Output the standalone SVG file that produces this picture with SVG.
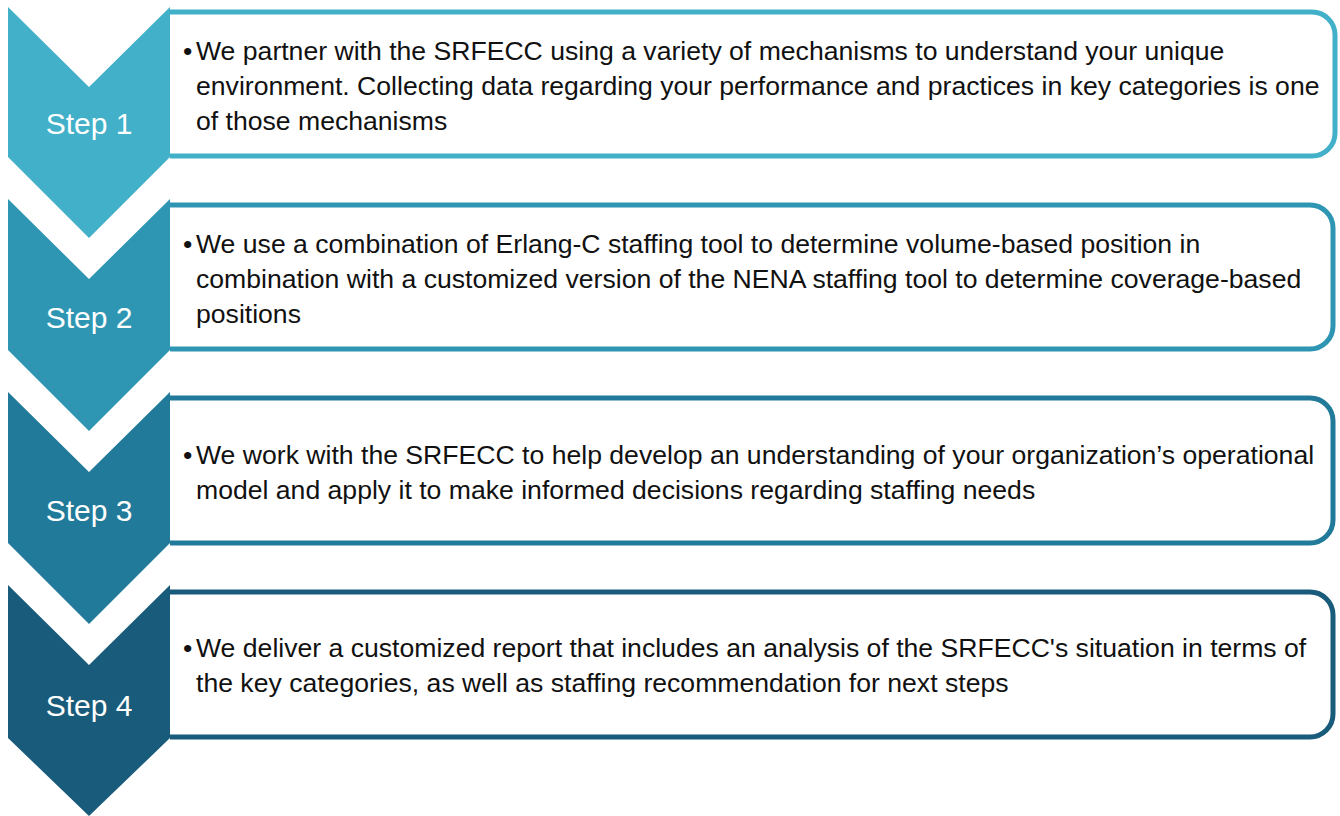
<svg xmlns="http://www.w3.org/2000/svg" width="1340" height="816" viewBox="0 0 1340 816">
<style>
.box{fill:#fff;stroke-width:5}
.step{font-family:"Liberation Sans",Arial,sans-serif;font-size:30px;fill:#fff;text-anchor:middle}
.body{font-family:"Liberation Sans",Arial,sans-serif;font-size:26.6px;fill:#111}
</style>
<rect width="1340" height="816" fill="#fff"/>
<g id="step1">
<path class="box" stroke="#41B0C8" d="M170,12 H1312 A23,23 0 0 1 1335,35 V133 A23,23 0 0 1 1312,156 H170"/>
<path fill="#41B0C8" d="M8,7 L89,87 L170,7 L170,157 L89,238 L8,157 Z"/>
<text class="step" x="89" y="134">Step 1</text>
<text class="body"><tspan x="183" y="60">•</tspan><tspan x="196" y="60">We partner with the SRFECC using a variety of mechanisms to understand your unique</tspan><tspan x="196" y="95">environment. Collecting data regarding your performance and practices in key categories is one</tspan><tspan x="196" y="130">of those mechanisms</tspan></text>
</g>
<g id="step2">
<path class="box" stroke="#2E96B3" d="M170,205 H1310 A23,23 0 0 1 1333,228 V326 A23,23 0 0 1 1310,349 H170"/>
<path fill="#2E96B3" d="M8,199 L89,279 L170,199 L170,350 L89,431 L8,350 Z"/>
<text class="step" x="89" y="328">Step 2</text>
<text class="body"><tspan x="183" y="253">•</tspan><tspan x="196" y="253">We use a combination of Erlang-C staffing tool to determine volume-based position in</tspan><tspan x="196" y="288">combination with a customized version of the NENA staffing tool to determine coverage-based</tspan><tspan x="196" y="323">positions</tspan></text>
</g>
<g id="step3">
<path class="box" stroke="#217A99" d="M170,398 H1310 A23,23 0 0 1 1333,421 V520 A23,23 0 0 1 1310,543 H170"/>
<path fill="#217A99" d="M8,392 L89,472 L170,392 L170,543 L89,624 L8,543 Z"/>
<text class="step" x="89" y="521">Step 3</text>
<text class="body"><tspan x="183" y="464">•</tspan><tspan x="196" y="464">We work with the SRFECC to help develop an understanding of your organization’s operational</tspan><tspan x="196" y="499">model and apply it to make informed decisions regarding staffing needs</tspan></text>
</g>
<g id="step4">
<path class="box" stroke="#195B7A" d="M170,592 H1310 A23,23 0 0 1 1333,615 V714 A23,23 0 0 1 1310,737 H170"/>
<path fill="#195B7A" d="M8,585 L89,665 L170,585 L170,738 L89,816 L8,738 Z"/>
<text class="step" x="89" y="716">Step 4</text>
<text class="body"><tspan x="183" y="657">•</tspan><tspan x="196" y="657">We deliver a customized report that includes an analysis of the SRFECC's situation in terms of</tspan><tspan x="196" y="692">the key categories, as well as staffing recommendation for next steps</tspan></text>
</g>
<g id="connectors"></g>
</svg>
